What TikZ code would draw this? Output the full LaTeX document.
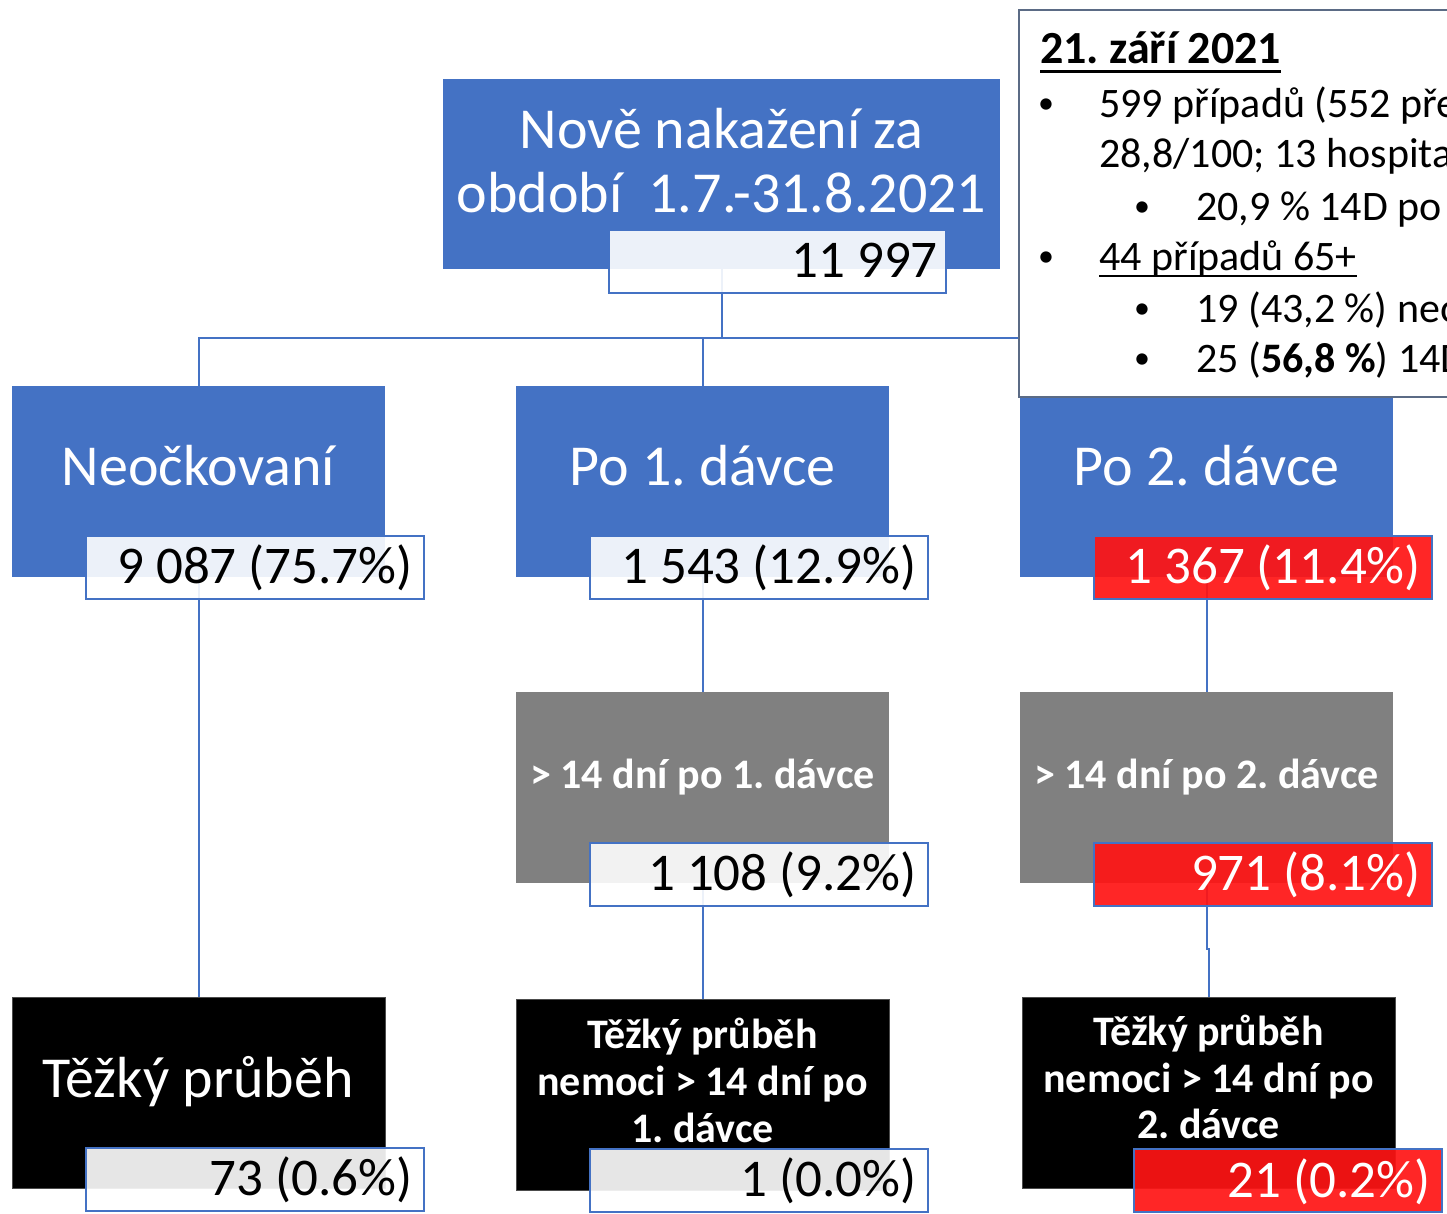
\documentclass[tikz,border=0pt]{standalone}
\usepackage{fontspec}
\setmainfont{Carlito}
\pgfdeclarelayer{bg}
\pgfsetlayers{bg,main}
\definecolor{accblue}{HTML}{4472C4}
\definecolor{boxgray}{HTML}{808080}
\definecolor{infoedge}{HTML}{5B6B85}
\definecolor{hired}{HTML}{FF1414}
\newcommand\fTitle{\fontsize{58}{64}\selectfont}
\newcommand\fNum{\fontsize{53}{60}\selectfont}
\newcommand\fBld{\fontsize{42}{47}\selectfont\bfseries}
\newcommand\fInfo{\fontsize{42}{50}\selectfont}
\newcommand\fBul{\fontsize{32}{40}\selectfont}
\newcommand\fHead{\fontsize{46}{50}\selectfont\bfseries}
\begin{document}
\frenchspacing
\begin{tikzpicture}[x=1pt,y=-1pt,
  box/.style={anchor=north west, inner sep=0pt, outer sep=0pt, minimum width=373pt, minimum height=191pt},
  bluebox/.style={box, fill=accblue},
  graybox/.style={box, fill=boxgray},
  blackbox/.style={box, fill=black, draw=black!70!white, line width=0.6pt},
  numbox/.style={anchor=north west, inner sep=0pt, outer sep=0pt, minimum width=338pt, minimum height=63pt, draw=accblue, line width=1.5pt, fill=white, fill opacity=0.9},
  rednum/.style={numbox, fill=hired, fill opacity=0.92},
  conn/.style={draw=accblue, line width=2pt},
  ttl/.style={anchor=base, inner sep=0pt, text=white, font=\fTitle},
  bld/.style={anchor=base, inner sep=0pt, text=white, font=\fBld},
  num/.style={anchor=base east, inner sep=0pt, text=black, font=\fNum},
  info/.style={anchor=base west, inner sep=0pt, font=\fInfo},
  bul/.style={anchor=base, inner sep=0pt, font=\fBul}
]
\useasboundingbox (0,0) rectangle (1447,1213);
\clip (0,0) rectangle (1447,1213);

% main boxes
\node[bluebox, minimum width=557pt, minimum height=190pt] (top) at (443,79) {};
\node[bluebox] (A) at (12,386) {};
\node[bluebox] (B) at (516,386) {};
\node[bluebox] (C) at (1020,386) {};
\node[graybox] (Bg) at (516,692) {};
\node[graybox] (Cg) at (1020,692) {};
\node[blackbox] (Ak) at (12,997) {};
\node[blackbox] (Bk) at (516,999) {};
\node[blackbox] (Ck) at (1022,997) {};

% background and connectors (behind)
\begin{pgfonlayer}{bg}
\fill[white] (0,0) rectangle (1447,1213);
\draw[conn] (top.south) -- ++(0,69) coordinate (hub);
\draw[conn] (A.north) |- (hub) -| (C.north);
\draw[conn] (B.north) -- (B.north |- hub);
\draw[conn] (A.south) -- (Ak.north);
\draw[conn] (B.south) -- (Bg.north);
\draw[conn] (Bg.south) -- (Bk.north);
\draw[conn] (C.south) -- (Cg.north);
\draw[conn] (Cg.south) -- ++(0,66) -| (Ck.north);
\end{pgfonlayer}

% titles
\node[ttl] (top1) at (721.5,148) {Nově nakažení za};
\node[ttl] (top2) at (721.5,212) {období\ \ 1.7.-31.8.2021};
\node[ttl] (tAt) at (198.5,485) {Neočkovaní};
\node[ttl] (tBt) at (702.5,485) {Po 1. dávce};
\node[ttl] (tCt) at (1206.5,485) {Po 2. dávce};
\node[bld] (tBgt) at (702.5,788) {> 14 dní po 1. dávce};
\node[bld] (tCgt) at (1206.5,788) {> 14 dní po 2. dávce};
\node[ttl] (tAkt) at (198,1097) {Těžký průběh};
\node[bld] (tBk1) at (702.5,1048) {Těžký průběh};
\node[bld] (tBk2) at (702.5,1095) {nemoci > 14 dní po};
\node[bld] (tBk3) at (702.5,1142) {1. dávce};
\node[bld] (tCk1) at (1208.5,1045) {Těžký průběh};
\node[bld] (tCk2) at (1208.5,1092) {nemoci > 14 dní po};
\node[bld] (tCk3) at (1208.5,1138) {2. dávce};

% number boxes
\node[numbox, minimum width=337pt] (n0) at (609,230) {};
\node[numbox] (An) at (86,536) {};
\node[numbox] (Bn) at (590,536) {};
\node[rednum] (Cn) at (1094,536) {};
\node[numbox] (Bgn) at (590,843) {};
\node[rednum] (Cgn) at (1094,843) {};
\node[numbox] (Akn) at (86,1148) {};
\node[numbox] (Bkn) at (590,1149) {};
\node[rednum, minimum width=308pt] (Ckn) at (1134,1149) {};

\node[num] (t0) at (938,277) {11 997};
\node[num] (tA) at (413,583) {9 087 (75.7\%)};
\node[num] (tB) at (917,583) {1 543 (12.9\%)};
\node[num, text=white] (tC) at (1421,583) {1 367 (11.4\%)};
\node[num] (tBg) at (917,890) {1 108 (9.2\%)};
\node[num, text=white] (tCg) at (1421,890) {971 (8.1\%)};
\node[num] (tAk) at (413,1195) {73 (0.6\%)};
\node[num] (tBk) at (917,1196) {1 (0.0\%)};
\node[num, text=white] (tCk) at (1431,1197) {21 (0.2\%)};

% info box
\node[draw=infoedge, line width=1.5pt, fill=white, anchor=north west, inner sep=0pt, outer sep=0pt, minimum width=470pt, minimum height=387pt] (info) at (1019,10) {};
\node[info, font=\fHead] (i0) at (1040,63) {21. září 2021};
\draw[line width=3pt] ([yshift=-8pt]i0.base west) -- ([yshift=-8pt]i0.base east);
\node[bul] (b1) at (1046,113) {\textbullet};
\node[info] (i1) at (1099,117) {599 případů (552 pře};
\node[info] (i2) at (1099,167) {28,8/100; 13 hospita};
\node[bul] (b3) at (1142,216) {\textbullet};
\node[info] (i3) at (1196,220) {20,9 \% 14D po};
\node[bul] (b4) at (1046,266) {\textbullet};
\node[info] (i4) at (1099,270) {44 případů 65+};
\draw[line width=2pt] ([yshift=-6pt]i4.base west) -- ([yshift=-6pt]i4.base east);
\node[bul] (b5) at (1142,318) {\textbullet};
\node[info] (i5) at (1196,322) {19 (43,2 \%) neo};
\node[bul] (b6) at (1142,368) {\textbullet};
\node[info] (i6) at (1196,372) {25 (\textbf{56,8 \%}) 14D};
\end{tikzpicture}
\end{document}
